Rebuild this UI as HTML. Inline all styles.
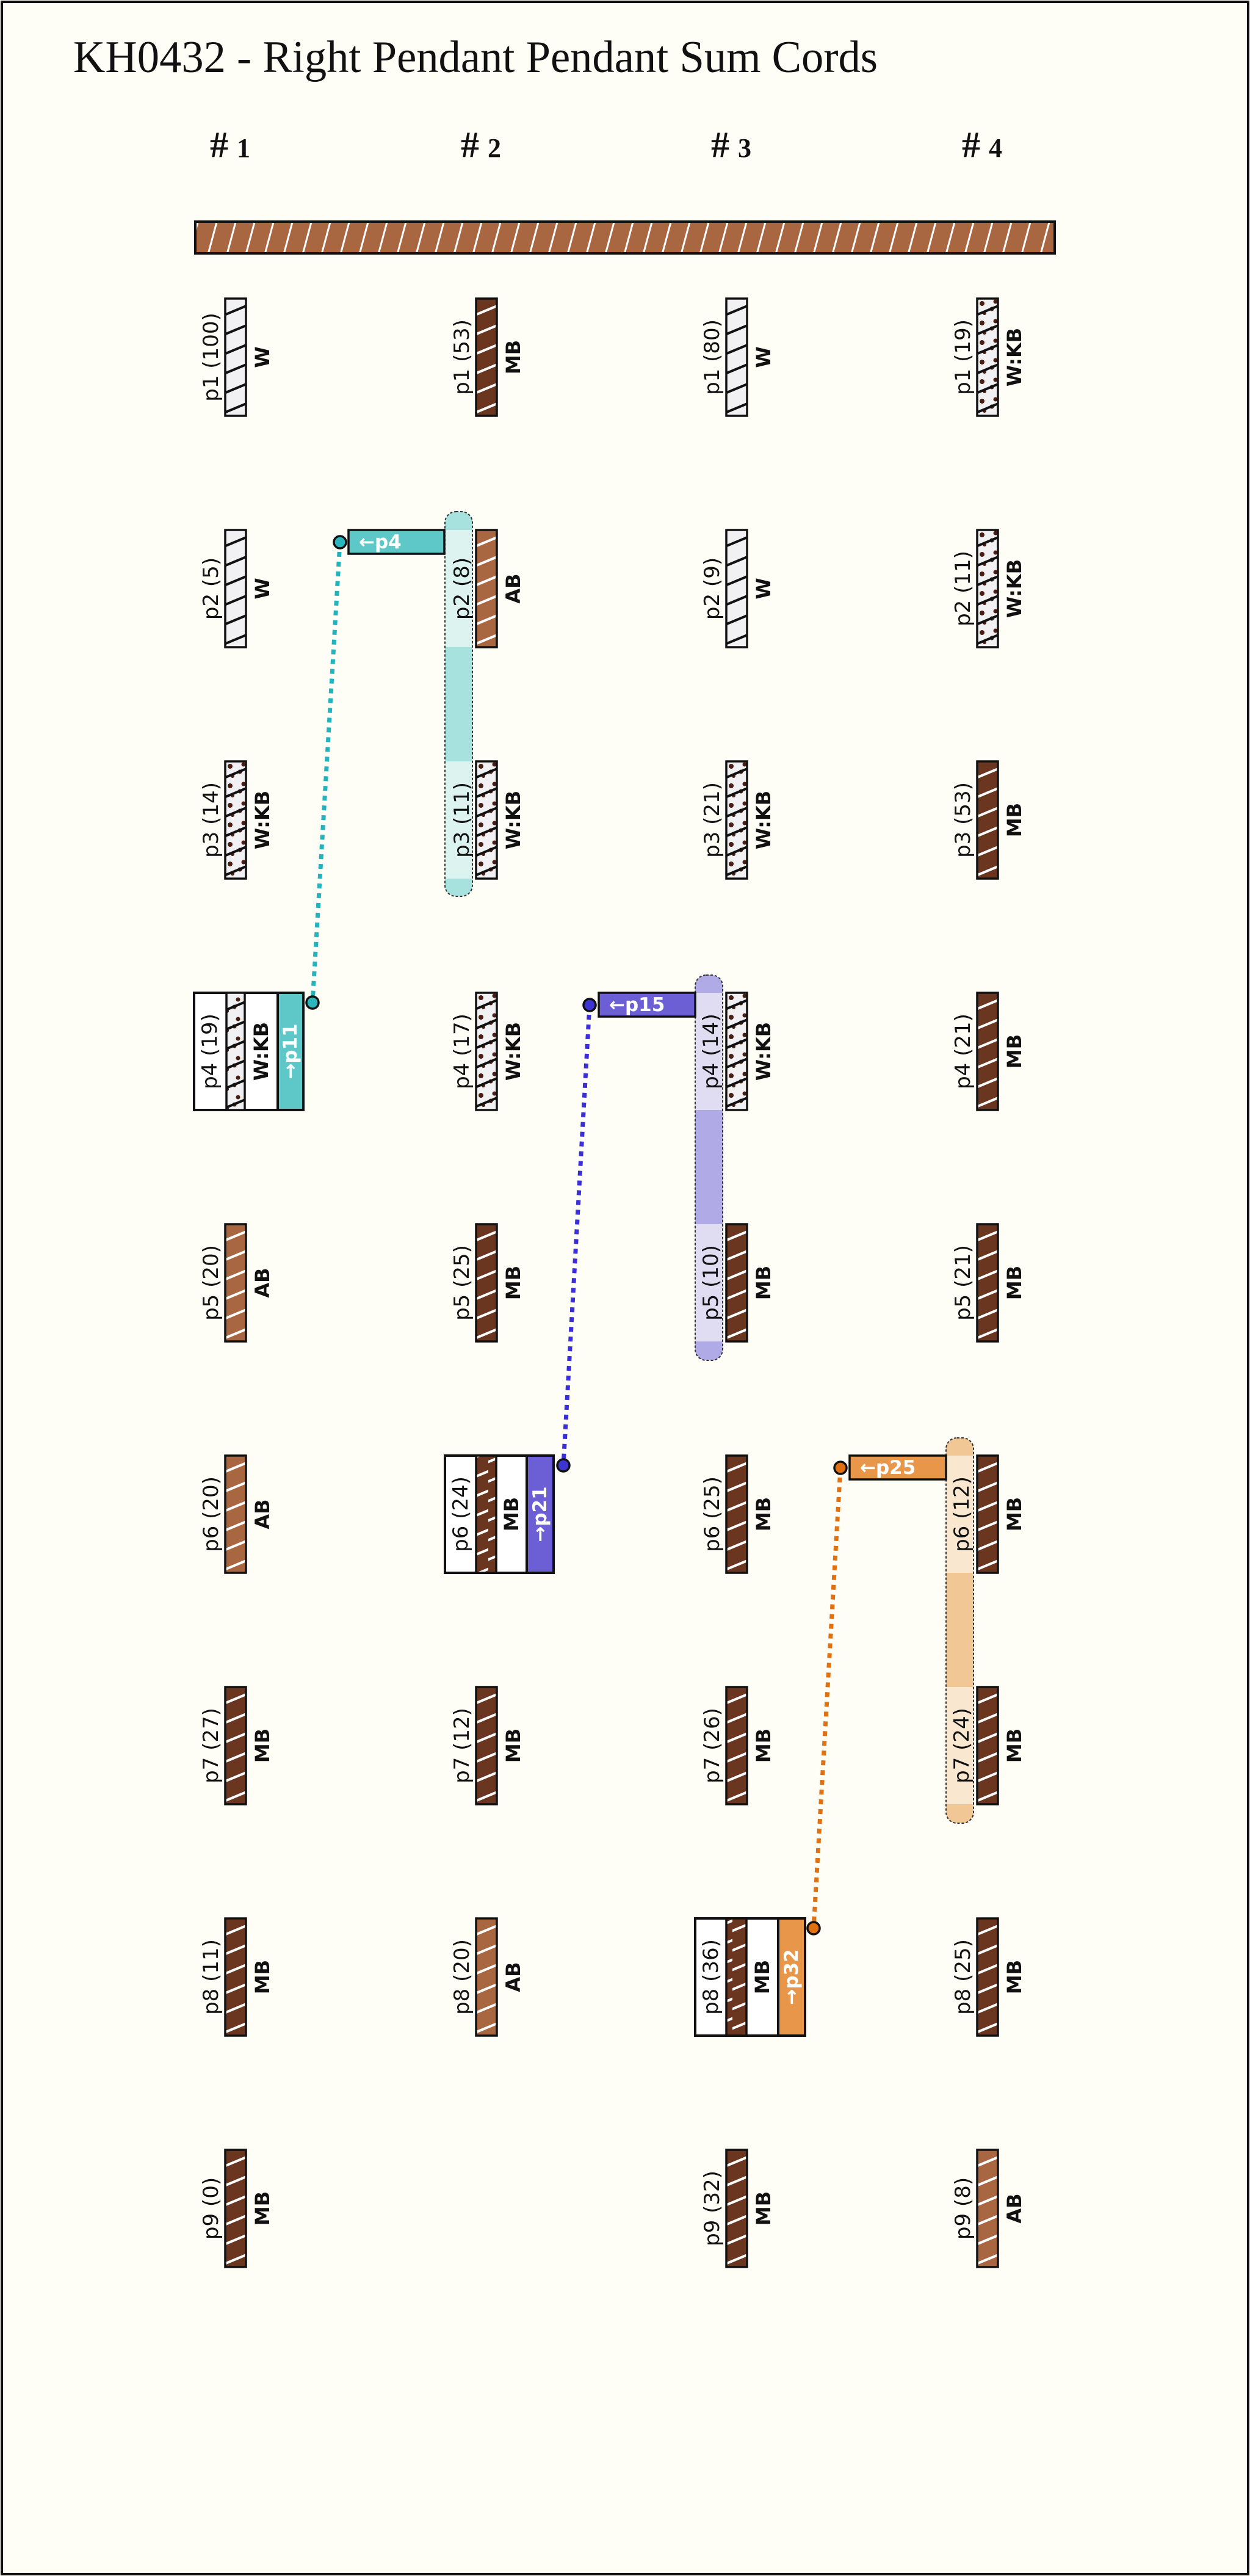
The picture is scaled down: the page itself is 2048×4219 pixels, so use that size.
<!DOCTYPE html>
<html><head><meta charset="utf-8"><style>
html,body{margin:0;padding:0;background:#fefef6;}
svg{display:block;}
.pl{font-family:"DejaVu Sans","Liberation Sans",sans-serif;font-size:34px;text-anchor:middle;dominant-baseline:central;fill:#111;}
.cl{font-family:"DejaVu Sans","Liberation Sans",sans-serif;font-size:32px;font-weight:bold;text-anchor:middle;dominant-baseline:central;fill:#111;}
.bt{font-family:"DejaVu Sans","Liberation Sans",sans-serif;font-size:31px;font-weight:bold;dominant-baseline:central;fill:#fff;}
.hd{font-family:"Liberation Serif",serif;font-size:60px;font-weight:bold;text-anchor:middle;fill:#111;}
</style></head><body>
<svg width="2048" height="4219" viewBox="0 0 2048 4219" xmlns="http://www.w3.org/2000/svg">
<defs>
<pattern id="pMB" patternUnits="userSpaceOnUse" width="40" height="32">
<rect width="40" height="32" fill="#6a3620"/>
<line x1="-4" y1="28" x2="44" y2="8" stroke="#fff" stroke-width="4"/>
<line x1="-4" y1="-4" x2="44" y2="-24" stroke="#fff" stroke-width="4"/>
<line x1="-4" y1="60" x2="44" y2="40" stroke="#fff" stroke-width="4"/>
</pattern>
<pattern id="pAB" patternUnits="userSpaceOnUse" width="40" height="32">
<rect width="40" height="32" fill="#a86641"/>
<line x1="-4" y1="28" x2="44" y2="8" stroke="#fff" stroke-width="4"/>
<line x1="-4" y1="-4" x2="44" y2="-24" stroke="#fff" stroke-width="4"/>
<line x1="-4" y1="60" x2="44" y2="40" stroke="#fff" stroke-width="4"/>
</pattern>
<pattern id="pW" patternUnits="userSpaceOnUse" width="40" height="32">
<rect width="40" height="32" fill="#f1f1f3"/>
<line x1="-4" y1="28" x2="44" y2="8" stroke="#111" stroke-width="4"/>
<line x1="-4" y1="-4" x2="44" y2="-24" stroke="#111" stroke-width="4"/>
<line x1="-4" y1="60" x2="44" y2="40" stroke="#111" stroke-width="4"/>
</pattern>
<pattern id="pWKB" patternUnits="userSpaceOnUse" width="40" height="32">
<rect width="40" height="32" fill="#f1f1f3"/>
<circle cx="8" cy="8" r="4" fill="#4a1c12"/>
<circle cx="24" cy="17" r="3.5" fill="#4a1c12"/>
<circle cx="12" cy="24" r="3" fill="#4a1c12"/>
<circle cx="30" cy="5" r="3.5" fill="#4a1c12"/>
<line x1="-4" y1="28" x2="44" y2="8" stroke="#111" stroke-width="4"/>
<line x1="-4" y1="-4" x2="44" y2="-24" stroke="#111" stroke-width="4"/>
<line x1="-4" y1="60" x2="44" y2="40" stroke="#111" stroke-width="4"/>
</pattern>
<pattern id="pBar" patternUnits="userSpaceOnUse" width="31" height="52">
<rect width="31" height="52" fill="#a86641"/>
<line x1="0" y1="52" x2="14" y2="0" stroke="#fff" stroke-width="3"/>
<line x1="31" y1="52" x2="45" y2="0" stroke="#fff" stroke-width="3"/>
</pattern>
<g id="MB"><rect x="0" y="0" width="34" height="192" fill="url(#pMB)" stroke="#111" stroke-width="3.5"/></g>
<g id="AB"><rect x="0" y="0" width="34" height="192" fill="url(#pAB)" stroke="#111" stroke-width="3.5"/></g>
<g id="W"><rect x="0" y="0" width="34" height="192" fill="url(#pW)" stroke="#111" stroke-width="3.5"/></g>
<g id="WKB"><rect x="0" y="0" width="34" height="192" fill="url(#pWKB)" stroke="#111" stroke-width="3.5"/></g>
</defs>
<rect x="0" y="0" width="2048" height="4219" fill="#fefef6"/>
<rect x="3" y="3" width="2042" height="4213" fill="none" stroke="#111" stroke-width="4"/>
<text x="120" y="118" font-family="Liberation Serif, serif" font-size="74" fill="#111" textLength="1318" lengthAdjust="spacingAndGlyphs">KH0432 - Right Pendant Pendant Sum Cords</text>
<text class="hd" x="377" y="257">#<tspan font-size="44" dx="14">1</tspan></text>
<text class="hd" x="788" y="257">#<tspan font-size="44" dx="14">2</tspan></text>
<text class="hd" x="1198" y="257">#<tspan font-size="44" dx="14">3</tspan></text>
<text class="hd" x="1609" y="257">#<tspan font-size="44" dx="14">4</tspan></text>
<rect x="320" y="363" width="1408" height="52" fill="url(#pBar)" stroke="#111" stroke-width="4"/>

<rect x="729" y="838" width="45" height="630" rx="18" fill="#a8e2de"/>
<rect x="729" y="868" width="45" height="192" fill="#dcf3ef"/>
<rect x="729" y="1247" width="45" height="192" fill="#dcf3ef"/>
<rect x="729" y="838" width="45" height="630" rx="18" fill="none" stroke="#333" stroke-width="2" stroke-dasharray="4 3"/>
<rect x="1139" y="1597" width="45" height="631" rx="18" fill="#b0aae6"/>
<rect x="1139" y="1626" width="45" height="192" fill="#e0ddf3"/>
<rect x="1139" y="2005" width="45" height="192" fill="#e0ddf3"/>
<rect x="1139" y="1597" width="45" height="631" rx="18" fill="none" stroke="#333" stroke-width="2" stroke-dasharray="4 3"/>
<rect x="1550" y="2355" width="45" height="631" rx="18" fill="#f2c796"/>
<rect x="1550" y="2384" width="45" height="192" fill="#f9e7d0"/>
<rect x="1550" y="2763" width="45" height="192" fill="#f9e7d0"/>
<rect x="1550" y="2355" width="45" height="631" rx="18" fill="none" stroke="#333" stroke-width="2" stroke-dasharray="4 3"/>

<line x1="557" y1="888" x2="512" y2="1642" stroke="#22b3bb" stroke-width="7" stroke-dasharray="8 8"/>
<line x1="966" y1="1646" x2="923" y2="2400" stroke="#3a2fd6" stroke-width="7" stroke-dasharray="8 8"/>
<line x1="1377" y1="2404" x2="1333" y2="3158" stroke="#e07010" stroke-width="7" stroke-dasharray="8 8"/>

<rect x="571" y="868" width="157" height="39" fill="#5ec8c8" stroke="#111" stroke-width="3.5"/>
<text class="bt" x="588" y="888">←p4</text>
<circle cx="557" cy="888" r="10" fill="#2bb5bd" stroke="#111" stroke-width="3.5"/>
<rect x="981" y="1626" width="158" height="39" fill="#6c5fd6" stroke="#111" stroke-width="3.5"/>
<text class="bt" x="998" y="1646">←p15</text>
<circle cx="966" cy="1646" r="10" fill="#3d35d0" stroke="#111" stroke-width="3.5"/>
<rect x="1392" y="2384" width="158" height="39" fill="#e8964a" stroke="#111" stroke-width="3.5"/>
<text class="bt" x="1409" y="2404">←p25</text>
<circle cx="1377" cy="2404" r="10" fill="#e07010" stroke="#111" stroke-width="3.5"/>

<use href="#W" x="369" y="489"/><text class="pl" transform="translate(346,585) rotate(-90)">p1 (100)</text><text class="cl" transform="translate(430,585) rotate(-90)">W</text>
<use href="#W" x="369" y="868"/><text class="pl" transform="translate(346,964) rotate(-90)">p2 (5)</text><text class="cl" transform="translate(430,964) rotate(-90)">W</text>
<use href="#WKB" x="369" y="1247"/><text class="pl" transform="translate(346,1343) rotate(-90)">p3 (14)</text><text class="cl" transform="translate(430,1343) rotate(-90)">W:KB</text>
<rect x="318" y="1626" width="179" height="192" fill="#fff" stroke="#111" stroke-width="4"/>
<rect x="455" y="1626" width="42" height="192" fill="#5ec8c8" stroke="#111" stroke-width="4"/>
<rect x="371" y="1626" width="30" height="192" fill="url(#pWKB)" stroke="#111" stroke-width="3.5"/>
<text class="pl" transform="translate(344,1722) rotate(-90)">p4 (19)</text><text class="cl" transform="translate(428,1722) rotate(-90)">W:KB</text>
<text class="bt" text-anchor="middle" transform="translate(476,1722) rotate(-90)">→p11</text>
<circle cx="512" cy="1642" r="10" fill="#2bb5bd" stroke="#111" stroke-width="3.5"/>
<use href="#AB" x="369" y="2005"/><text class="pl" transform="translate(346,2101) rotate(-90)">p5 (20)</text><text class="cl" transform="translate(430,2101) rotate(-90)">AB</text>
<use href="#AB" x="369" y="2384"/><text class="pl" transform="translate(346,2480) rotate(-90)">p6 (20)</text><text class="cl" transform="translate(430,2480) rotate(-90)">AB</text>
<use href="#MB" x="369" y="2763"/><text class="pl" transform="translate(346,2859) rotate(-90)">p7 (27)</text><text class="cl" transform="translate(430,2859) rotate(-90)">MB</text>
<use href="#MB" x="369" y="3142"/><text class="pl" transform="translate(346,3238) rotate(-90)">p8 (11)</text><text class="cl" transform="translate(430,3238) rotate(-90)">MB</text>
<use href="#MB" x="369" y="3521"/><text class="pl" transform="translate(346,3617) rotate(-90)">p9 (0)</text><text class="cl" transform="translate(430,3617) rotate(-90)">MB</text>

<use href="#MB" x="780" y="489"/><text class="pl" transform="translate(757,585) rotate(-90)">p1 (53)</text><text class="cl" transform="translate(841,585) rotate(-90)">MB</text>
<use href="#AB" x="780" y="868"/><text class="pl" transform="translate(757,964) rotate(-90)">p2 (8)</text><text class="cl" transform="translate(841,964) rotate(-90)">AB</text>
<use href="#WKB" x="780" y="1247"/><text class="pl" transform="translate(757,1343) rotate(-90)">p3 (11)</text><text class="cl" transform="translate(841,1343) rotate(-90)">W:KB</text>
<use href="#WKB" x="780" y="1626"/><text class="pl" transform="translate(757,1722) rotate(-90)">p4 (17)</text><text class="cl" transform="translate(841,1722) rotate(-90)">W:KB</text>
<use href="#MB" x="780" y="2005"/><text class="pl" transform="translate(757,2101) rotate(-90)">p5 (25)</text><text class="cl" transform="translate(841,2101) rotate(-90)">MB</text>
<rect x="729" y="2384" width="178" height="192" fill="#fff" stroke="#111" stroke-width="4"/>
<rect x="863" y="2384" width="44" height="192" fill="#6c5fd6" stroke="#111" stroke-width="4"/>
<rect x="780" y="2384" width="33" height="192" fill="url(#pMB)" stroke="#111" stroke-width="3.5"/>
<text class="pl" transform="translate(755,2480) rotate(-90)">p6 (24)</text><text class="cl" transform="translate(838,2480) rotate(-90)">MB</text>
<text class="bt" text-anchor="middle" transform="translate(885,2480) rotate(-90)">→p21</text>
<circle cx="923" cy="2400" r="10" fill="#3d35d0" stroke="#111" stroke-width="3.5"/>
<use href="#MB" x="780" y="2763"/><text class="pl" transform="translate(757,2859) rotate(-90)">p7 (12)</text><text class="cl" transform="translate(841,2859) rotate(-90)">MB</text>
<use href="#AB" x="780" y="3142"/><text class="pl" transform="translate(757,3238) rotate(-90)">p8 (20)</text><text class="cl" transform="translate(841,3238) rotate(-90)">AB</text>

<use href="#W" x="1190" y="489"/><text class="pl" transform="translate(1167,585) rotate(-90)">p1 (80)</text><text class="cl" transform="translate(1251,585) rotate(-90)">W</text>
<use href="#W" x="1190" y="868"/><text class="pl" transform="translate(1167,964) rotate(-90)">p2 (9)</text><text class="cl" transform="translate(1251,964) rotate(-90)">W</text>
<use href="#WKB" x="1190" y="1247"/><text class="pl" transform="translate(1167,1343) rotate(-90)">p3 (21)</text><text class="cl" transform="translate(1251,1343) rotate(-90)">W:KB</text>
<use href="#WKB" x="1190" y="1626"/><text class="pl" transform="translate(1165,1722) rotate(-90)">p4 (14)</text><text class="cl" transform="translate(1251,1722) rotate(-90)">W:KB</text>
<use href="#MB" x="1190" y="2005"/><text class="pl" transform="translate(1165,2101) rotate(-90)">p5 (10)</text><text class="cl" transform="translate(1251,2101) rotate(-90)">MB</text>
<use href="#MB" x="1190" y="2384"/><text class="pl" transform="translate(1167,2480) rotate(-90)">p6 (25)</text><text class="cl" transform="translate(1251,2480) rotate(-90)">MB</text>
<use href="#MB" x="1190" y="2763"/><text class="pl" transform="translate(1167,2859) rotate(-90)">p7 (26)</text><text class="cl" transform="translate(1251,2859) rotate(-90)">MB</text>
<rect x="1139" y="3142" width="180" height="192" fill="#fff" stroke="#111" stroke-width="4"/>
<rect x="1275" y="3142" width="44" height="192" fill="#e8964a" stroke="#111" stroke-width="4"/>
<rect x="1190" y="3142" width="33" height="192" fill="url(#pMB)" stroke="#111" stroke-width="3.5"/>
<text class="pl" transform="translate(1165,3238) rotate(-90)">p8 (36)</text><text class="cl" transform="translate(1249,3238) rotate(-90)">MB</text>
<text class="bt" text-anchor="middle" transform="translate(1297,3238) rotate(-90)">→p32</text>
<circle cx="1333" cy="3158" r="10" fill="#e07010" stroke="#111" stroke-width="3.5"/>
<use href="#MB" x="1190" y="3521"/><text class="pl" transform="translate(1167,3617) rotate(-90)">p9 (32)</text><text class="cl" transform="translate(1251,3617) rotate(-90)">MB</text>

<use href="#WKB" x="1601" y="489"/><text class="pl" transform="translate(1578,585) rotate(-90)">p1 (19)</text><text class="cl" transform="translate(1662,585) rotate(-90)">W:KB</text>
<use href="#WKB" x="1601" y="868"/><text class="pl" transform="translate(1578,964) rotate(-90)">p2 (11)</text><text class="cl" transform="translate(1662,964) rotate(-90)">W:KB</text>
<use href="#MB" x="1601" y="1247"/><text class="pl" transform="translate(1578,1343) rotate(-90)">p3 (53)</text><text class="cl" transform="translate(1662,1343) rotate(-90)">MB</text>
<use href="#MB" x="1601" y="1626"/><text class="pl" transform="translate(1578,1722) rotate(-90)">p4 (21)</text><text class="cl" transform="translate(1662,1722) rotate(-90)">MB</text>
<use href="#MB" x="1601" y="2005"/><text class="pl" transform="translate(1578,2101) rotate(-90)">p5 (21)</text><text class="cl" transform="translate(1662,2101) rotate(-90)">MB</text>
<use href="#MB" x="1601" y="2384"/><text class="pl" transform="translate(1576,2480) rotate(-90)">p6 (12)</text><text class="cl" transform="translate(1662,2480) rotate(-90)">MB</text>
<use href="#MB" x="1601" y="2763"/><text class="pl" transform="translate(1576,2859) rotate(-90)">p7 (24)</text><text class="cl" transform="translate(1662,2859) rotate(-90)">MB</text>
<use href="#MB" x="1601" y="3142"/><text class="pl" transform="translate(1578,3238) rotate(-90)">p8 (25)</text><text class="cl" transform="translate(1662,3238) rotate(-90)">MB</text>
<use href="#AB" x="1601" y="3521"/><text class="pl" transform="translate(1578,3617) rotate(-90)">p9 (8)</text><text class="cl" transform="translate(1662,3617) rotate(-90)">AB</text>
</svg>
</body></html>
